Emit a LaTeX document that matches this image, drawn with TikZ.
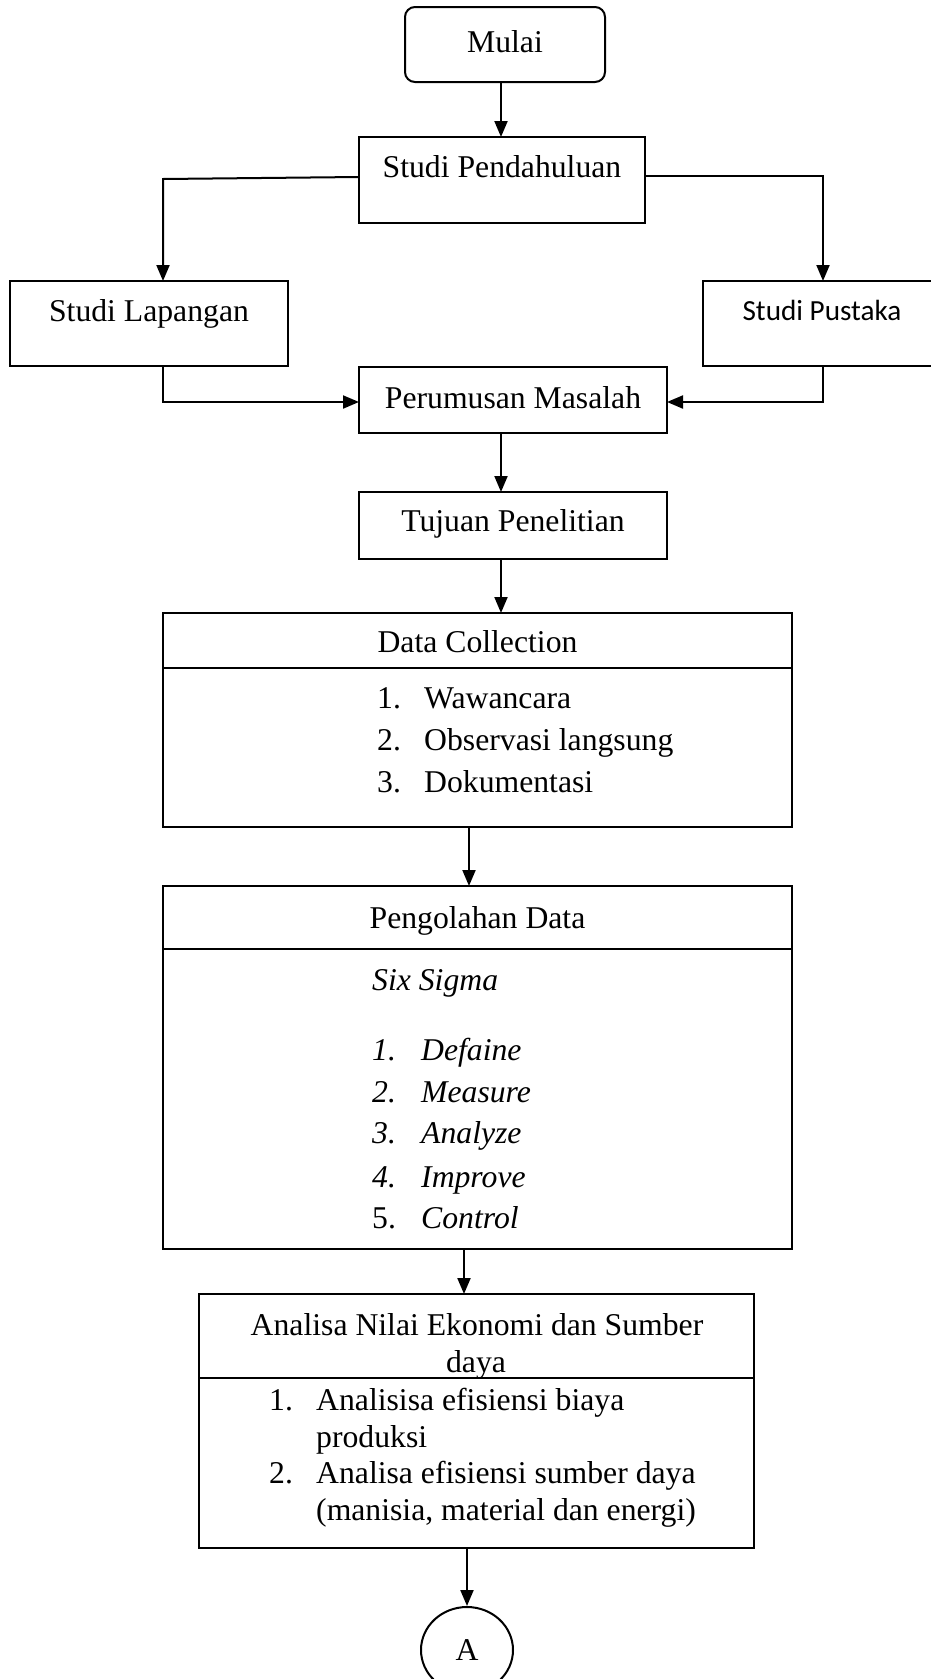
\documentclass[tikz,border=0pt]{standalone}
\usepackage{fontspec}
\setmainfont{Liberation Serif}
\newfontfamily\calibri{Carlito}
\usetikzlibrary{arrows.meta,calc,shapes.geometric}
\tikzset{
  box/.style={draw,line width=2pt,rectangle,inner sep=0pt,outer sep=0pt},
  conn/.style={line width=2pt,-{Triangle[length=16pt,width=13pt]}},
  seg/.style={line width=2pt},
  txt/.style={inner sep=0pt,anchor=base,font=\fontsize{31.7pt}{38pt}\selectfont},
  ltxt/.style={txt,anchor=base west},
}
\begin{document}
\begin{tikzpicture}[x=1pt,y=-1pt]
\useasboundingbox (0,0) rectangle (930,1679);
% boxes
\node[box,rounded corners=10pt,minimum width=200pt,minimum height=75pt] (mulai) at (505,44.5) {};
\node[box,minimum width=286pt,minimum height=86pt] (pend) at (502,180) {};
\node[box,minimum width=278pt,minimum height=85pt] (lap) at (149,323.5) {};
\node[box,minimum width=240pt,minimum height=85pt,anchor=north west] (pus) at (703,281) {};
\node[box,minimum width=308pt,minimum height=66pt] (per) at (513,400) {};
\node[box,minimum width=308pt,minimum height=67pt] (tuj) at (513,525.5) {};
\node[box,minimum width=629pt,minimum height=214pt,anchor=north west] (dc) at (163,613) {};
\node[box,minimum width=629pt,minimum height=363pt,anchor=north west] (pd) at (163,886) {};
\node[box,minimum width=555pt,minimum height=254pt,anchor=north west] (an) at (199,1294) {};
\node[draw,line width=2pt,ellipse,minimum width=92pt,minimum height=86pt,inner sep=0pt] (A) at (467,1650) {};
\node[txt,anchor=center] (tA) at (A.center) {A};
% dividers
\coordinate (dcl) at (163,668); \coordinate (dcr) at (792,668);
\draw[seg] (dcl) -- (dcr);
\coordinate (pdl) at (163,949); \coordinate (pdr) at (792,949);
\draw[seg] (pdl) -- (pdr);
\coordinate (anl) at (199,1378); \coordinate (anr) at (754,1378);
\draw[seg] (anl) -- (anr);
% texts
\node[txt] (t1) at (505,52) {Mulai};
\node[txt] (t2) at (502,177) {Studi Pendahuluan};
\node[txt] (t3) at (149,321) {Studi Lapangan};
\node[txt,font=\calibri\fontsize{29.2pt}{35pt}\selectfont] (t4) at (822,320) {Studi Pustaka};
\node[txt] (t5) at (513,408) {Perumusan Masalah};
\node[txt] (t6) at (513,531) {Tujuan Penelitian};
\node[txt] (t7) at (477.5,652) {Data Collection};
\node[ltxt] (d1n) at (377,708) {1.};
\node[ltxt] (d1) at (424,708) {Wawancara};
\node[ltxt] (d2n) at (377,750) {2.};
\node[ltxt] (d2) at (424,750) {Observasi langsung};
\node[ltxt] (d3n) at (377,792) {3.};
\node[ltxt] (d3) at (424,792) {Dokumentasi};
\node[txt] (t8) at (477.5,928) {Pengolahan Data};
\node[ltxt] (ss) at (372,990) {\itshape Six Sigma};
\node[ltxt] (s1n) at (372,1060) {\itshape 1.};
\node[ltxt] (s1) at (421,1060) {\itshape Defaine};
\node[ltxt] (s2n) at (372,1102) {\itshape 2.};
\node[ltxt] (s2) at (421,1102) {\itshape Measure};
\node[ltxt] (s3n) at (372,1143) {\itshape 3.};
\node[ltxt] (s3) at (421,1143) {\itshape Analyze};
\node[ltxt] (s4n) at (372,1187) {\itshape 4.};
\node[ltxt] (s4) at (421,1187) {\itshape Improve};
\node[ltxt] (s5n) at (372,1228) {5.};
\node[ltxt] (s5) at (421,1228) {\itshape Control};
\node[txt] (t9a) at (477,1335) {Analisa Nilai Ekonomi dan Sumber};
\node[txt] (t9b) at (476,1372) {daya};
\node[ltxt] (a1n) at (269,1410) {1.};
\node[ltxt] (a1) at (316,1410) {Analisisa efisiensi biaya};
\node[ltxt] (a1b) at (316,1447) {produksi};
\node[ltxt] (a2n) at (269,1483) {2.};
\node[ltxt] (a2) at (316,1483) {Analisa efisiensi sumber daya};
\node[ltxt] (a2b) at (316,1520) {(manisia, material dan energi)};
% connectors
\coordinate (lt) at (163,281);
\coordinate (rt) at (823,281);
\coordinate (lb) at (163,366);
\coordinate (rb) at (823,366);
\draw[conn] ($(mulai.south)+(-4,0)$) -- ($(pend.north)+(-1,0)$);
\draw[conn] ($(pend.west)+(0,-3)$) -- ($(lt)+(0,-102)$) -- (lt);
\draw[conn] ($(pend.east)+(0,-4)$) -| (rt);
\draw[conn] (lb) |- ($(per.west)+(0,2)$);
\draw[conn] (rb) |- ($(per.east)+(0,2)$);
\draw[conn] ($(per.south)+(-12,0)$) -- ($(tuj.north)+(-12,0)$);
\draw[conn] ($(tuj.south)+(-12,0)$) -- ($(dc.north)+(23.5,0)$);
\draw[conn] ($(dc.south)+(-8.5,0)$) -- ($(pd.north)+(-8.5,0)$);
\draw[conn] ($(pd.south)+(-13.5,0)$) -- ($(an.north)+(-12.5,0)$);
\draw[conn] ($(an.south)+(-9.5,0)$) -- (A.north);
\end{tikzpicture}
\end{document}
